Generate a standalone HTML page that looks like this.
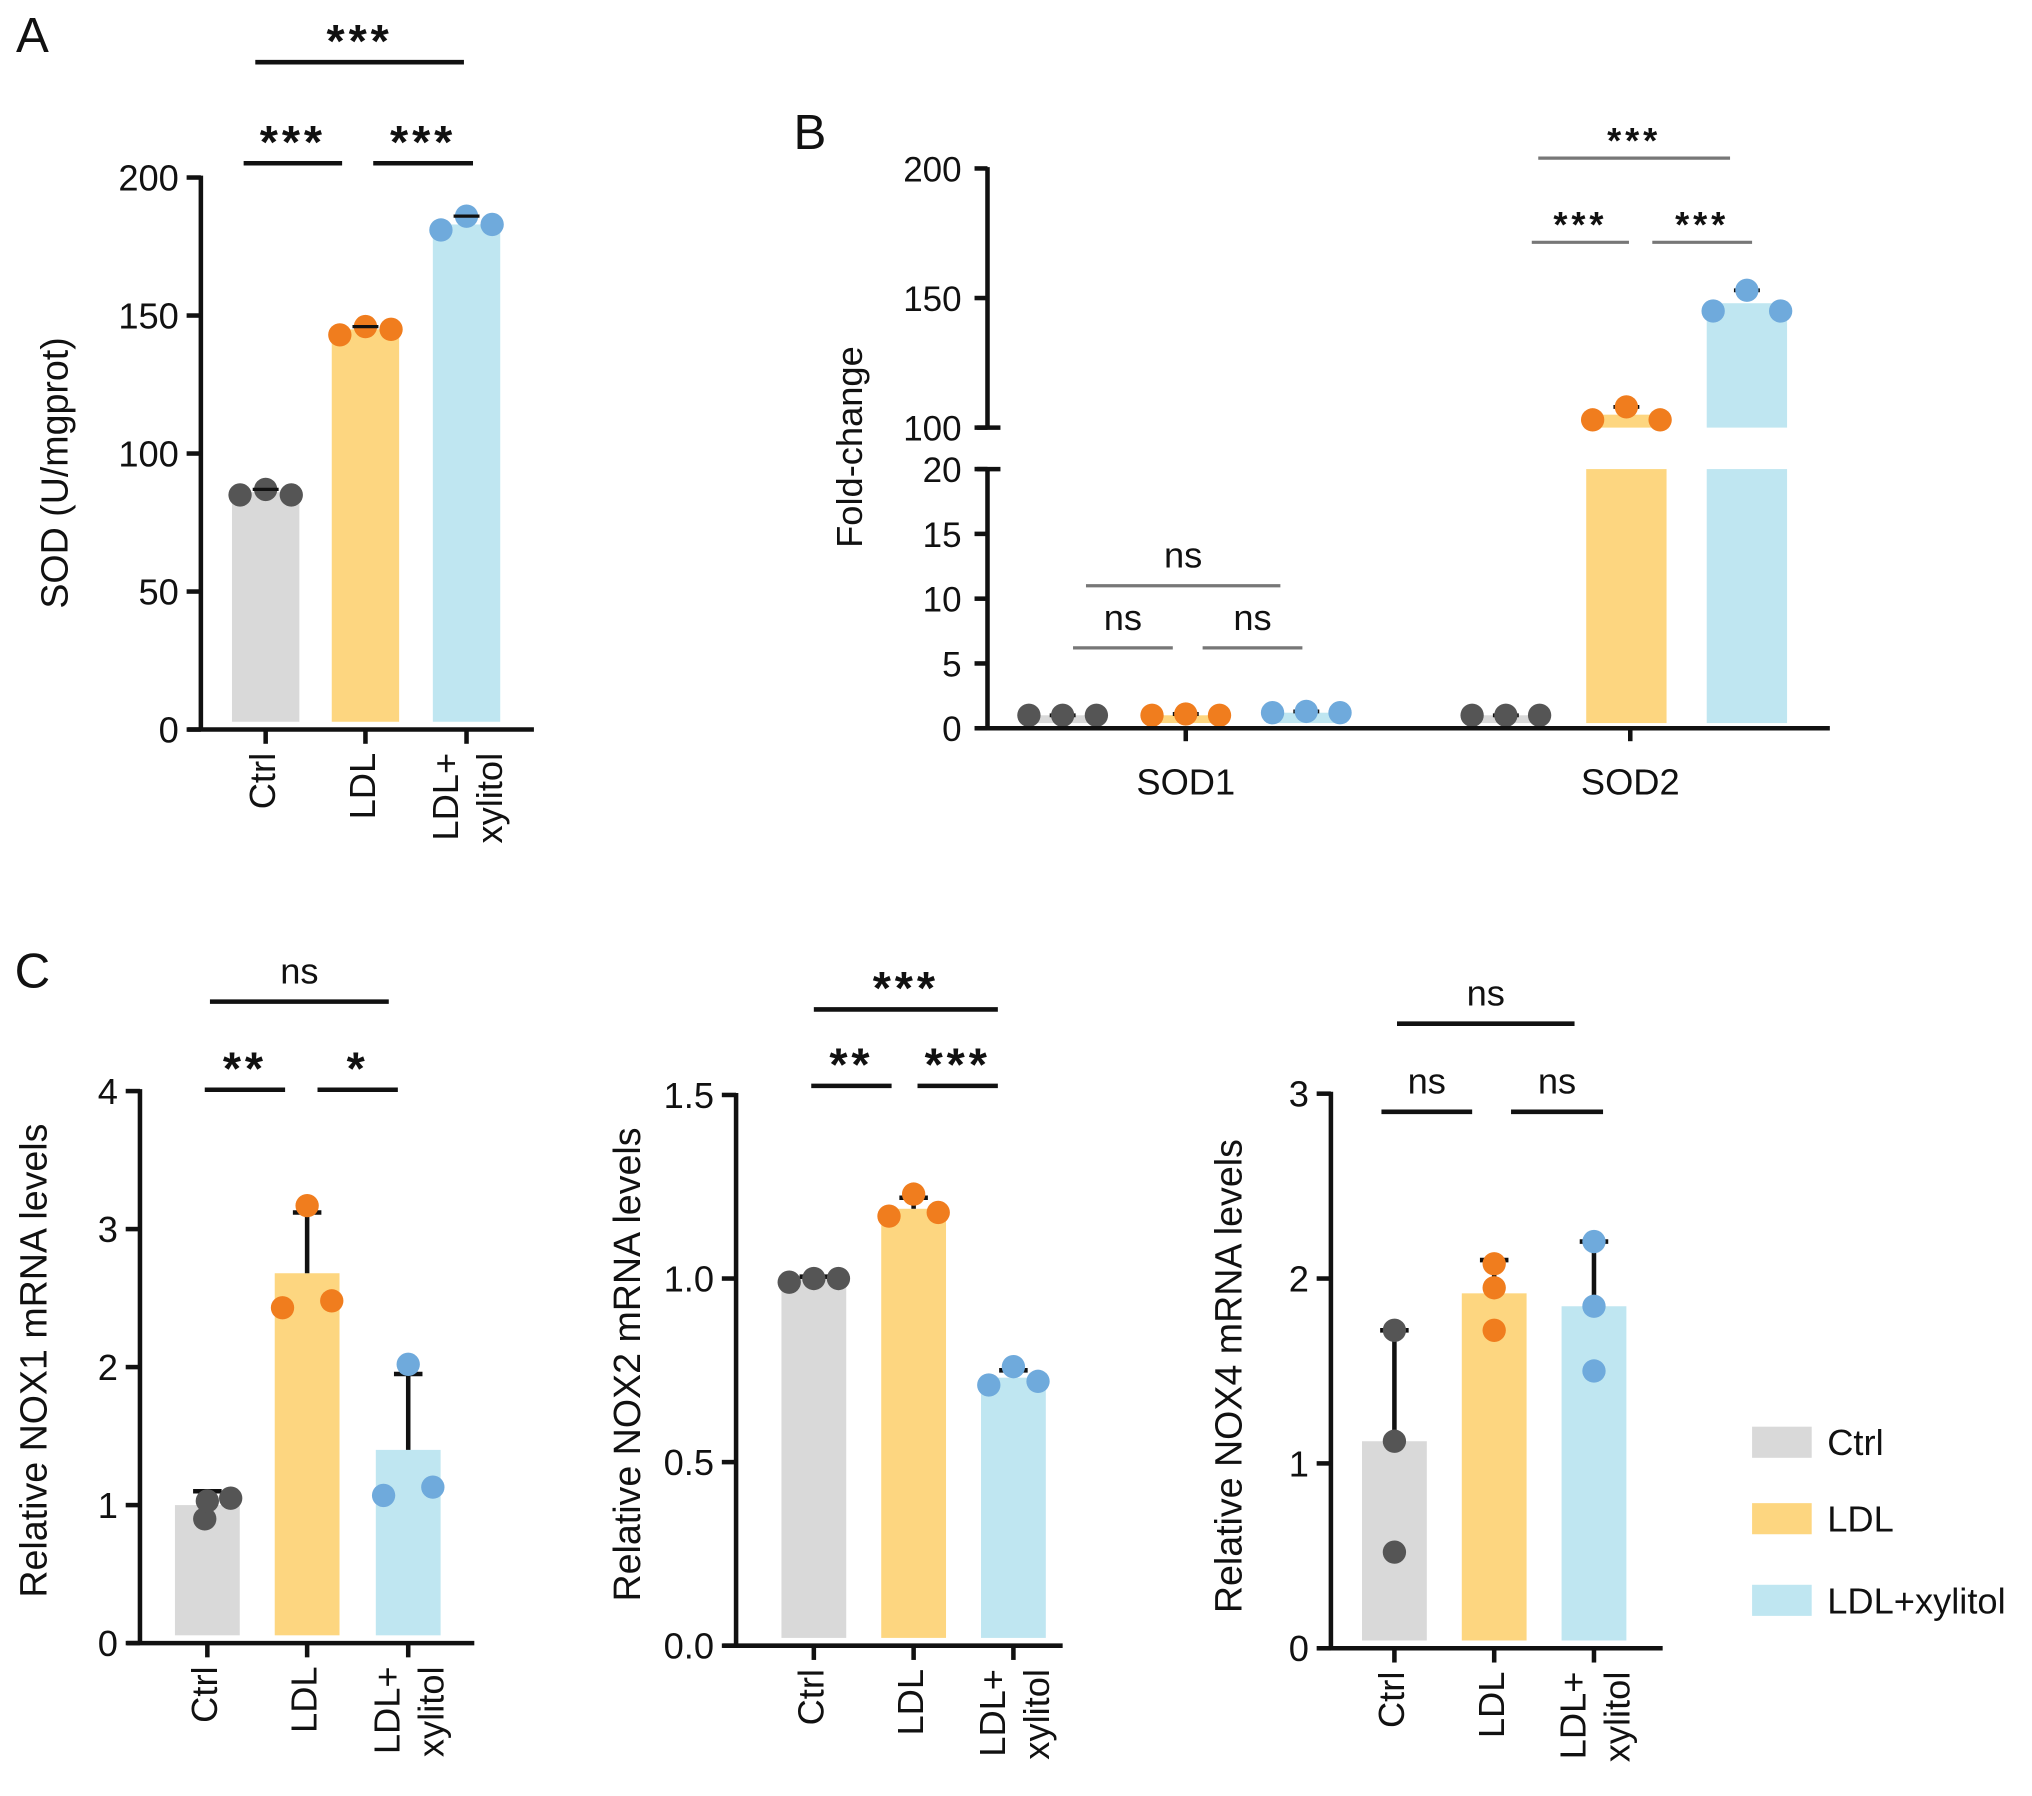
<!DOCTYPE html>
<html><head><meta charset="utf-8"><style>
html,body{margin:0;padding:0;background:#fff}
svg{display:block}
text{font-family:"Liberation Sans",Arial,sans-serif;fill:#111}
</style></head><body>
<svg id="fig" width="2032" height="1796" viewBox="0 0 1568 1386" preserveAspectRatio="none" xmlns="http://www.w3.org/2000/svg"></svg>
<script>
// ---- Data ----
const groups = ["Ctrl", "LDL", "LDL+xylitol"];
const aTicks = [0, 50, 100, 150, 200];
const aPoints = [[85, 87, 85], [143, 146, 145], [181, 186, 183]];
const aMeans = [86, 145, 183];
const bGenes = ["SOD1", "SOD2"];
const bLowTicks = [0, 5, 10, 15, 20];
const bHighTicks = [100, 150, 200];
const bPoints = [[[1, 1, 1], [1, 1.1, 1], [1.2, 1.3, 1.2]], [[1, 1, 1], [103, 108, 103], [145, 153, 145]]];
const bMeans = [[1, 1, 1.2], [1, 105, 148]];
const c1Ticks = [0, 1, 2, 3, 4];
const c1Points = [[0.9, 1.03, 1.05], [3.17, 2.43, 2.48], [2.02, 1.07, 1.13]];
const c1Means = [1.0, 2.68, 1.4];
const c1Err = [1.1, 3.12, 1.95];
const c2Ticks = [0.0, 0.5, 1.0, 1.5];
const c2Points = [[0.99, 1.0, 1.0], [1.17, 1.23, 1.18], [0.71, 0.76, 0.72]];
const c2Means = [1.0, 1.19, 0.73];
const c2Err = [1.005, 1.22, 0.75];
const c3Ticks = [0, 1, 2, 3];
const c3Points = [[1.72, 1.12, 0.52], [2.08, 1.95, 1.72], [2.2, 1.85, 1.5]];
const c3Means = [1.12, 1.92, 1.85];
const c3Err = [1.72, 2.1, 2.2];

const barCol = ["#d9d9d9", "#fdd680", "#bfe6f1"];
const dotCol = ["#555555", "#f07d1e", "#6faadc"];
const svg = document.getElementById('fig');
const NS = "http://www.w3.org/2000/svg";
function mk(tag, attrs, txt, parent) {
  const e = document.createElementNS(NS, tag);
  for (const k in attrs) e.setAttribute(k, attrs[k]);
  if (txt !== undefined) e.textContent = txt;
  (parent || svg).appendChild(e);
  return e;
}
function line(x1, y1, x2, y2, w, c, name) {
  const e = mk('line', {x1, y1, x2, y2, stroke: c || '#111', 'stroke-width': w || 3});
  
  
  return e;
}
function text(x, y, s, size, anchor, name, extra) {
  const a = {x, y, 'font-size': size, 'text-anchor': anchor || 'middle'};
  for (const k in (extra || {})) a[k] = extra[k];
  const e = mk('text', a, s);
  
  
  return e;
}
function lin(d0, d1, r0, r1) { return v => r0 + (v - d0) * (r1 - r0) / (d1 - d0); }
function dot(x, y, c) {
  const e = mk('circle', {cx: x, cy: y, r: 9, fill: c});
  
  
}
function bar(x, w, y0, y1, c) {
  const e = mk('rect', {x: x - w / 2, y: Math.min(y0, y1), width: w, height: Math.abs(y0 - y1), fill: c});
  
  
}
function sig(x1, x2, y, lbl, col, w, size) {
  line(x1, y, x2, y, w || 3.5, col || '#111', 'significance-bracket');
  const isStar = lbl.indexOf('*') >= 0;
  text((x1 + x2) / 2, isStar ? y - 4 : y - 14, lbl, isStar ? (size || 36) : 28, 'middle', 'significance-label', isStar ? {'font-weight': 'bold', 'letter-spacing': '3'} : {});
}
function rotLabels(cx, y0, names) {
  names.forEach((n, i) => {
    if (n === "LDL+xylitol") {
      text(0, 0, "LDL+", 28, 'end', 'x-tick-label', {transform: `translate(${cx[i] - 14},${y0}) rotate(-90)`, 'dominant-baseline': 'middle'});
      text(0, 0, "xylitol", 28, 'end', 'x-tick-label', {transform: `translate(${cx[i] + 20},${y0}) rotate(-90)`, 'dominant-baseline': 'middle'});
    } else {
      text(0, 0, n, 28, 'end', 'x-tick-label', {transform: `translate(${cx[i]},${y0}) rotate(-90)`, 'dominant-baseline': 'middle'});
    }
  });
}
function simplePanel(o) {
  const y = lin(o.ticks[0], o.ticks[o.ticks.length - 1], o.y0, o.y1);
  const bw = o.bw;
  groups.forEach((g, i) => {
    const cx = o.cx[i];
    bar(cx, bw, y(0) - 6, y(o.means[i]), barCol[i]);
    if (o.err) {
      line(cx, y(o.means[i]), cx, y(o.err[i]), 3.5, '#111', 'error-bar');
      line(cx - 11, y(o.err[i]), cx + 11, y(o.err[i]), 3.5, '#111', 'error-cap');
    }
    const offs = o.offs ? o.offs[i] : [-bw * 0.38, 0, bw * 0.38];
    o.points[i].forEach((v, j) => dot(cx + offs[j], y(v), dotCol[i]));
    if (!o.err) line(cx - 10, y(Math.max(...o.points[i])), cx + 10, y(Math.max(...o.points[i])), 2.5, '#111', 'error-cap');
  });
  line(o.ax, o.y1 - 1.5, o.ax, y(0) + 1.5, 3.5, '#111', 'y-axis');
  line(o.ax - 10, y(0), o.xEnd, y(0), 3.5, '#111', 'x-axis');
  o.ticks.forEach((t, k) => {
    line(o.ax - 11, y(t), o.ax, y(t), 3.5, '#111', 'y-tick');
    text(o.ax - 17, y(t) + 10, o.tickLabels ? o.tickLabels[k] : String(t), 28, 'end', 'y-tick-label');
  });
  o.cx.forEach(cx => line(cx, y(0), cx, y(0) + 11, 3.5, '#111', 'x-tick'));
  text(0, 0, o.title, 29, 'middle', 'y-axis-title', {transform: `translate(${o.titleX},${o.titleY}) rotate(-90)`});
  rotLabels(o.cx, y(0) + 18, groups);
}

// Panel A
text(25, 40, "A", 38, 'middle', 'panel-label-a');
simplePanel({ticks: aTicks, points: aPoints, means: aMeans, y0: 563, y1: 137, ax: 155, xEnd: 412, cx: [205, 282, 360], bw: 52, title: "SOD (U/mgprot)", titleX: 52, titleY: 365});
sig(197, 358, 48, "***");
sig(188, 264, 126, "***");
sig(288, 365, 126, "***");

// Panel B
text(625, 115, "B", 38, 'middle', 'panel-label-b');
(function () {
  const yl = lin(0, 20, 562, 362), yh = lin(100, 200, 330, 130);
  const yv = v => v <= 20 ? yl(v) : yh(v);
  const cxs = [[820, 915, 1008], [1162, 1255, 1348]];
  const bw = 62;
  bGenes.forEach((g, gi) => {
    groups.forEach((gr, i) => {
      const cx = cxs[gi][i], m = bMeans[gi][i];
      if (m > 20) {
        bar(cx, bw, yl(0) - 4, yl(20), barCol[i]);
        bar(cx, bw, yh(100), yh(m), barCol[i]);
      } else {
        bar(cx, bw, yl(0) - 4, yl(m), barCol[i]);
      }
      const offs = [-bw * 0.42, 0, bw * 0.42];
      const mx = Math.max(...bPoints[gi][i]);
      line(cx - 10, yv(mx), cx + 10, yv(mx), 3, '#111', 'error-cap');
      bPoints[gi][i].forEach((v, j) => dot(cx + offs[j], yv(v), dotCol[i]));
    });
  });
  line(762, 129, 762, 330, 3.5, '#111', 'y-axis-upper');
  line(762, 362, 762, 563, 3.5, '#111', 'y-axis-lower');
  line(754, 330, 772, 330, 3.5, '#111', 'axis-break');
  line(754, 362, 772, 362, 3.5, '#111', 'axis-break');
  line(755, 562, 1412, 562, 3.5, '#111', 'x-axis');
  bHighTicks.forEach(t => { line(752, yh(t), 762, yh(t), 3.5, '#111', 'y-tick'); text(742, yh(t) + 10, String(t), 27, 'end', 'y-tick-label'); });
  bLowTicks.forEach(t => { line(752, yl(t), 762, yl(t), 3.5, '#111', 'y-tick'); text(742, yl(t) + 10, String(t), 27, 'end', 'y-tick-label'); });
  [915, 1258].forEach((x, i) => { line(x, 562, x, 572, 3.5, '#111', 'x-tick'); text(x, 613, bGenes[i], 28, 'middle', 'x-tick-label'); });
  text(0, 0, "Fold-change", 28, 'middle', 'y-axis-title', {transform: `translate(665,345) rotate(-90)`});
})();
sig(838, 988, 452, "ns", '#777', 2.5);
sig(828, 905, 500, "ns", '#777', 2.5);
sig(928, 1005, 500, "ns", '#777', 2.5);
sig(1187, 1335, 122, "***", '#777', 2.5, 28);
sig(1182, 1257, 187, "***", '#777', 2.5, 28);
sig(1275, 1352, 187, "***", '#777', 2.5, 28);

// Panel C
text(25, 762, "C", 38, 'middle', 'panel-label-c');
simplePanel({ticks: c1Ticks, points: c1Points, means: c1Means, err: c1Err, y0: 1268, y1: 842, ax: 108, xEnd: 366, cx: [160, 237, 315], bw: 50,
  offs: [[-2, 0, 18], [0, -19, 19], [0, -19, 19]], title: "Relative NOX1 mRNA levels", titleX: 36, titleY: 1050});
sig(162, 300, 773, "ns");
sig(158, 220, 841, "**");
sig(245, 307, 841, "*");
simplePanel({ticks: c2Ticks, tickLabels: ["0.0", "0.5", "1.0", "1.5"], points: c2Points, means: c2Means, err: c2Err, y0: 1270, y1: 845, ax: 568, xEnd: 820, cx: [628, 705, 782], bw: 50,
  offs: [[-19, 0, 19], [-19, 0, 19], [-19, 0, 19]], title: "Relative NOX2 mRNA levels", titleX: 494, titleY: 1053});
sig(628, 770, 779, "***");
sig(626, 688, 838, "**");
sig(708, 770, 838, "***");
simplePanel({ticks: c3Ticks, points: c3Points, means: c3Means, err: c3Err, y0: 1272, y1: 844, ax: 1027, xEnd: 1283, cx: [1076, 1153, 1230], bw: 50,
  offs: [[0, 0, 0], [0, 0, 0], [0, 0, 0]], title: "Relative NOX4 mRNA levels", titleX: 958, titleY: 1062});
sig(1078, 1215, 790, "ns");
sig(1066, 1136, 858, "ns");
sig(1166, 1237, 858, "ns");

// Legend
groups.forEach((g, i) => {
  const yy = [1113, 1172, 1235][i];
  const r = mk('rect', {x: 1352, y: yy - 12, width: 46, height: 24, fill: barCol[i]});
  
  
  text(1410, yy + 10, g, 28, 'start', 'legend-entry');
});
</script>
</body></html>
